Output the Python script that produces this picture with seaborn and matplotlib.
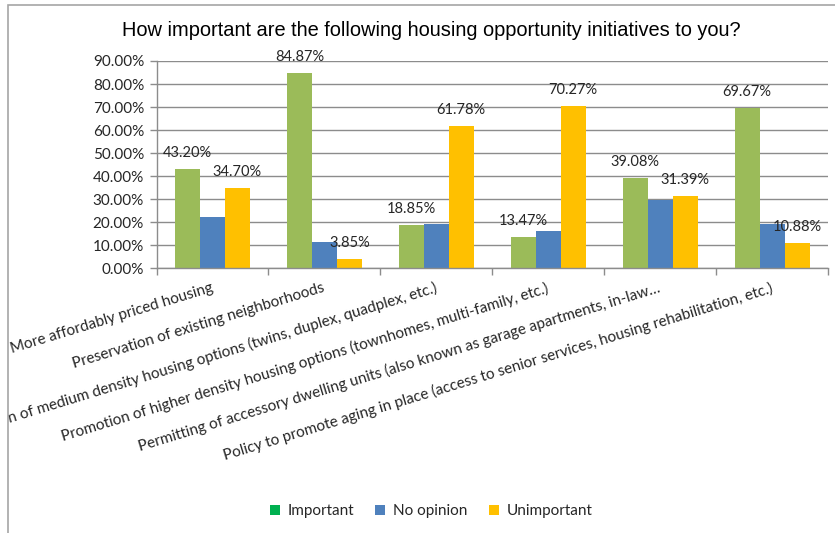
import matplotlib
matplotlib.use("Agg")
import matplotlib.pyplot as plt
from matplotlib.lines import Line2D
from matplotlib.patches import Rectangle
from matplotlib.ticker import FixedLocator, FuncFormatter
import pandas as pd
import seaborn as sns

# Survey results: share of respondents per answer, per initiative
initiatives = [
    "More affordably priced housing",
    "Preservation of existing neighborhoods",
    "Promotion of medium density housing options (twins, duplex, quadplex, etc.)",
    "Promotion of higher density housing options (townhomes, multi-family, etc.)",
    "Permitting of accessory dwelling units (also known as garage apartments, in-law\u2026",
    "Policy to promote aging in place (access to senior services, housing rehabilitation, etc.)",
]
responses = ["Important", "No opinion", "Unimportant"]
important = [43.20, 84.87, 18.85, 13.47, 39.08, 69.67]
no_opinion = [22.10, 11.28, 19.37, 16.26, 29.53, 19.45]
unimportant = [34.70, 3.85, 61.78, 70.27, 31.39, 10.88]
y_ticks = [0, 10, 20, 30, 40, 50, 60, 70, 80, 90]

bar_colors = ["#9BBB59", "#4F81BD", "#FFC000"]
legend_colors = ["#00B050", "#4F81BD", "#FFC000"]

rows = []
for name, imp, noo, unimp in zip(initiatives, important, no_opinion, unimportant):
    for resp, val in zip(responses, (imp, noo, unimp)):
        rows.append({"initiative": name, "response": resp, "share": val / 100.0})
df = pd.DataFrame(rows)

sns.set_theme(style="white")
body_font = ["Lato", "DejaVu Sans"]
plt.rcParams["font.family"] = body_font

W, H = 835, 533
fig = plt.figure(figsize=(W / 100, H / 100), dpi=100)
fig.patch.set_facecolor("white")

# chart-area frame; text outside it is clipped
frame_left, frame_top = 8, 5
frame = Rectangle((frame_left / W, -0.1), 1.2, (H - frame_top) / H + 0.1,
                  transform=fig.transFigure, fill=False,
                  edgecolor="#A6A6A6", linewidth=1.2)
fig.patches.append(frame)
clip_box = Rectangle((frame_left / W, 0), 1, 1, transform=fig.transFigure)

left, right = 156.5, 828
top, bottom = 61, 268.3
ax = fig.add_axes([left / W, (H - bottom) / H, (right - left) / W, (bottom - top) / H])

sns.barplot(data=df, x="initiative", y="share", hue="response",
            hue_order=responses, palette=bar_colors, width=0.67,
            gap=0, saturation=1, linewidth=0, ax=ax, legend=False)

ax.set_ylim(0, 0.9)
ax.set_xlim(-0.5, len(initiatives) - 0.5)
ax.yaxis.set_major_locator(FixedLocator([t / 100 for t in y_ticks]))
ax.yaxis.set_major_formatter(FuncFormatter(lambda v, _: f"{v * 100:.2f}%"))
ax.grid(axis="y", color="#8C8C8C", linewidth=1.0)
ax.set_axisbelow(True)
ax.set_xlabel("")
ax.set_ylabel("")

for side in ("top", "right"):
    ax.spines[side].set_visible(False)
for side in ("left", "bottom"):
    ax.spines[side].set_color("#8C8C8C")
    ax.spines[side].set_linewidth(1.0)

ax.tick_params(axis="y", which="major", left=True, length=5, width=1,
               color="#8C8C8C", labelsize=11, labelcolor="#262626", pad=4)
ax.tick_params(axis="x", which="major", bottom=False, length=0,
               labelsize=11, labelcolor="#262626", pad=14)
ax.xaxis.set_minor_locator(FixedLocator([i - 0.5 for i in range(len(initiatives) + 1)]))
ax.tick_params(axis="x", which="minor", bottom=True, length=5, width=1, color="#8C8C8C")

for lab in ax.get_xticklabels():
    lab.set_rotation(17)
    lab.set_ha("right")
    lab.set_va("center")
    lab.set_rotation_mode("anchor")
    lab.set_clip_on(True)
    lab.set_clip_path(clip_box)

# value labels above the Important and Unimportant bars
for container, resp in zip(ax.containers, responses):
    if resp == "No opinion":
        continue
    for bar in container:
        h = bar.get_height()
        ax.annotate(f"{h * 100:.2f}%", (bar.get_x() + bar.get_width() / 2, h),
                    xytext=(0, 16), textcoords="offset pixels",
                    ha="center", va="center", fontsize=10.5, color="#262626",
                    annotation_clip=False)

fig.text(0.517, 1 - 31 / H,
         "How important are the following housing opportunity initiatives to you?",
         ha="center", va="center", fontsize=14.4, color="#000000",
         family=["Liberation Sans", "DejaVu Sans"])

handles = [Line2D([], [], marker="s", linestyle="none", markersize=7,
                  markerfacecolor=c, markeredgewidth=0) for c in legend_colors]
fig.legend(handles, responses, loc="center", bbox_to_anchor=(0.5156, 1 - 511 / H),
           ncol=3, frameon=False, fontsize=11, handletextpad=0.45,
           columnspacing=1.3, handlelength=0.8)

fig.savefig("out.png", dpi=100, facecolor="white")
